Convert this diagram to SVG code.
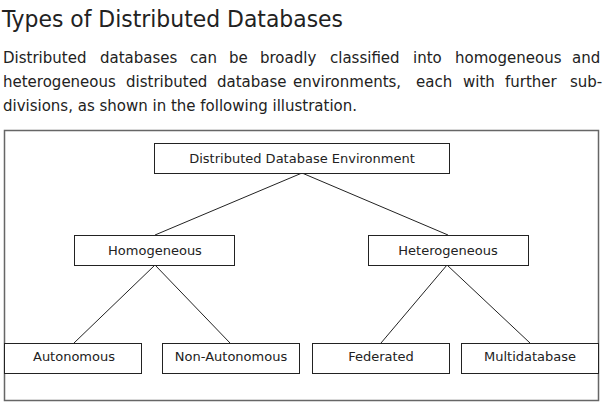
<svg xmlns="http://www.w3.org/2000/svg" width="603" height="405" viewBox="0 0 603 405">
<style>
.node rect{fill:#fff;stroke:#222;stroke-width:1}
.node text{font-family:"DejaVu Sans",sans-serif;font-size:13px;fill:#222;text-anchor:middle}
.conn line{stroke:#222;stroke-width:1}
.body{font-family:"DejaVu Sans",sans-serif;font-size:15px;fill:#222}
</style>
<rect width="603" height="405" fill="#fff"/>
<text x="2" y="27" font-family="DejaVu Sans Condensed, DejaVu Sans, sans-serif" font-size="23" fill="#222" textLength="341" lengthAdjust="spacingAndGlyphs">Types of Distributed Databases</text>
<text class="body" y="63"><tspan x="3">Distributed</tspan><tspan x="100">databases</tspan><tspan x="190">can</tspan><tspan x="229">be</tspan><tspan x="260">broadly</tspan><tspan x="330">classified</tspan><tspan x="413">into</tspan><tspan x="455">homogeneous</tspan><tspan x="572">and</tspan></text>
<text class="body" y="87"><tspan x="3">heterogeneous</tspan><tspan x="126">distributed</tspan><tspan x="217">database</tspan><tspan x="293">environments,</tspan><tspan x="416">each</tspan><tspan x="463">with</tspan><tspan x="505">further</tspan><tspan x="570">sub-</tspan></text>
<text class="body" x="3" y="111" textLength="354" lengthAdjust="spacing">divisions, as shown in the following illustration.</text>
<rect x="4.5" y="130.5" width="594" height="270" fill="none" stroke="#666" stroke-width="1.5"/>
<g class="conn">
<line x1="302" y1="173" x2="155" y2="235"/>
<line x1="302" y1="173" x2="448" y2="235"/>
<line x1="155" y1="265" x2="74" y2="343"/>
<line x1="155" y1="265" x2="230" y2="343"/>
<line x1="447" y1="265" x2="381" y2="343"/>
<line x1="447" y1="265" x2="530" y2="343"/>
</g>
<g id="dde" class="node"><rect x="154.5" y="143.5" width="295" height="30"/><text x="302" y="163">Distributed Database Environment</text></g>
<g id="homogeneous" class="node"><rect x="74.5" y="235.5" width="160" height="30"/><text x="155" y="255">Homogeneous</text></g>
<g id="heterogeneous" class="node"><rect x="368.5" y="235.5" width="160" height="30"/><text x="448" y="255">Heterogeneous</text></g>
<g id="autonomous" class="node"><rect x="4.5" y="343.5" width="137" height="30"/><text x="74" y="361">Autonomous</text></g>
<g id="nonautonomous" class="node"><rect x="162.5" y="343.5" width="137" height="30"/><text x="231" y="361">Non-Autonomous</text></g>
<g id="federated" class="node"><rect x="312.5" y="343.5" width="137" height="30"/><text x="381" y="361">Federated</text></g>
<g id="multidatabase" class="node"><rect x="461.5" y="343.5" width="137" height="30"/><text x="530" y="361">Multidatabase</text></g>
</svg>
